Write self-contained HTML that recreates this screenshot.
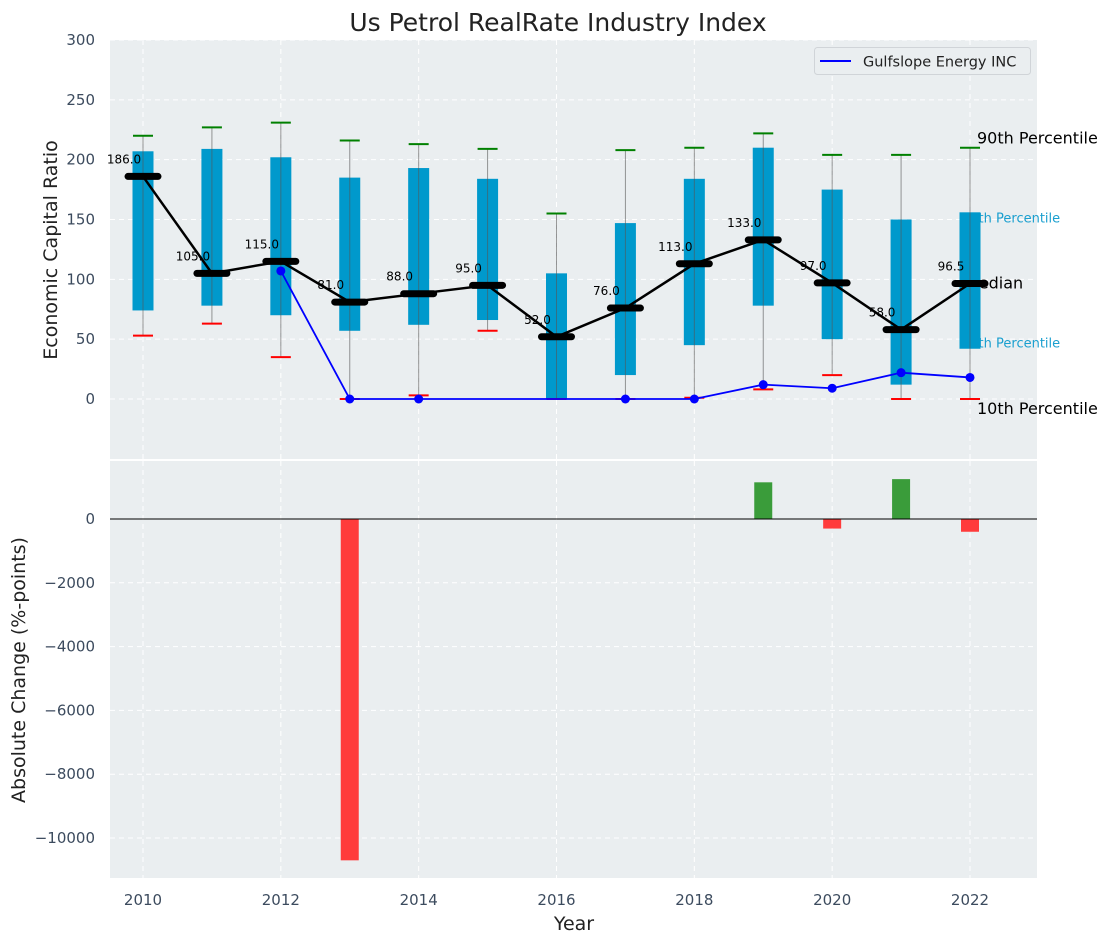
<!DOCTYPE html>
<html><head><meta charset="utf-8"><style>
body{margin:0;background:#fff}
text{font-family:"DejaVu Sans","Liberation Sans",sans-serif}
</style></head><body>
<svg id="c" width="1112" height="942" xmlns="http://www.w3.org/2000/svg"></svg>
<script>
const years=[2010,2011,2012,2013,2014,2015,2016,2017,2018,2019,2020,2021,2022];
const p10=[53,63,35,0,3,57,0,0,1,8,20,0,0];
const p25=[74,78,70,57,62,66,0,20,45,78,50,12,42];
const medians=[186,105,115,81,88,95,52,76,113,133,97,58,96.5];
const p75=[207,209,202,185,193,184,105,147,184,210,175,150,156];
const p90=[220,227,231,216,213,209,155,208,210,222,204,204,210];
const company=[null,null,107,0,0,null,null,0,0,12,9,22,18];
const changes=[0,0,0,-10700,0,0,0,0,0,1150,-300,1250,-400];
const topTicks=[0,50,100,150,200,250,300];
const botTicks=[0,-2000,-4000,-6000,-8000,-10000];
const xTicks=[2010,2012,2014,2016,2018,2020,2022];

const NS="http://www.w3.org/2000/svg";
const svg=document.getElementById('c');
function el(t,a,p){const e=document.createElementNS(NS,t);for(const k in a)e.setAttribute(k,a[k]);(p||svg).appendChild(e);return e;}
const L=110,R=1037;
const x=v=>143+(v-2010)*(970-143)/12;
const yT=v=>399-v*(359/300);
const yB=v=>519-v*(319/10000);

let e=el('rect',{x:L,y:40,width:R-L,height:419,fill:'#eaeef0'});

e=el('rect',{x:L,y:461,width:R-L,height:417,fill:'#eaeef0'});


xTicks.forEach(t=>{
  el('line',{x1:x(t),x2:x(t),y1:40,y2:459,stroke:'#fff','stroke-dasharray':'5,4','stroke-width':1});
  el('line',{x1:x(t),x2:x(t),y1:461,y2:878,stroke:'#fff','stroke-dasharray':'5,4','stroke-width':1});
  e=el('text',{x:x(t),y:905,'text-anchor':'middle','font-size':15,fill:'#3c4b5e'});e.textContent=t;
  
});
topTicks.forEach(t=>{
  el('line',{x1:L,x2:R,y1:yT(t),y2:yT(t),stroke:'#fff','stroke-dasharray':'5,4'});
  e=el('text',{x:95,y:yT(t)+5,'text-anchor':'end','font-size':15,fill:'#3c4b5e'});e.textContent=t;
  
});
botTicks.forEach(t=>{
  el('line',{x1:L,x2:R,y1:yB(t),y2:yB(t),stroke:'#fff','stroke-dasharray':'5,4'});
  e=el('text',{x:95,y:yB(t)+5,'text-anchor':'end','font-size':15,fill:'#3c4b5e'});e.textContent=(t<0?'\u2212'+(-t):t);
  
});

// right-side percentile labels (behind boxes)
[['90th Percentile',yT(p90[12])-4,977,'#000',16],['75th Percentile',yT(p75[12])+10,962,'#1a9fcf',13],['Median',yT(medians[12])+5,965,'#000',16],['25th Percentile',yT(p25[12])-1,962,'#1a9fcf',13],['10th Percentile',yT(p10[12])+15,977,'#000',16]].forEach(a=>{
  e=el('text',{x:a[2],y:a[1],'font-size':a[4],fill:a[3]});e.textContent=a[0];
  
});

years.forEach((yr,i)=>{
  const cx=x(yr);
  e=el('rect',{x:cx-10.5,y:yT(p75[i]),width:21,height:yT(p25[i])-yT(p75[i]),fill:'#0099cc'});
  
  e=el('line',{x1:cx,x2:cx,y1:yT(p10[i]),y2:yT(p90[i]),stroke:'#555','stroke-opacity':0.6,'stroke-width':1});
  
  e=el('line',{x1:cx-10,x2:cx+10,y1:yT(p90[i]),y2:yT(p90[i]),stroke:'#008000','stroke-width':2});
  
  e=el('line',{x1:cx-10,x2:cx+10,y1:yT(p10[i]),y2:yT(p10[i]),stroke:'#ff0000','stroke-width':2});
  
});

let pts=[];years.forEach((yr,i)=>{if(company[i]!==null)pts.push(x(yr)+','+yT(company[i]));});
e=el('polyline',{points:pts.join(' '),fill:'none',stroke:'#0000ff','stroke-width':1.8});

years.forEach((yr,i)=>{if(company[i]!==null){
  e=el('circle',{cx:x(yr),cy:yT(company[i]),r:4.5,fill:'#0000ff'});
  }});

e=el('polyline',{points:years.map((yr,i)=>x(yr)+','+yT(medians[i])).join(' '),fill:'none',stroke:'#000','stroke-width':2.5});

years.forEach((yr,i)=>{
  const cx=x(yr),cy=yT(medians[i]);
  e=el('line',{x1:cx-15,x2:cx+15,y1:cy,y2:cy,stroke:'#000','stroke-width':7,'stroke-linecap':'round'});
  
  e=el('text',{x:cx-19,y:cy-13,'text-anchor':'middle','font-size':12,fill:'#000'});e.textContent=medians[i].toFixed(1);
  
});

const lg=el('g',{});
el('rect',{x:814.5,y:47.5,width:216,height:27,rx:3,fill:'#eaeef0',stroke:'#d0d4d8'},lg);
el('line',{x1:820,x2:851,y1:61,y2:61,stroke:'#0000ff','stroke-width':2},lg);
e=el('text',{x:863,y:66.5,'font-size':14.5,fill:'#222'},lg);e.textContent='Gulfslope Energy INC';

years.forEach((yr,i)=>{
  const v=changes[i];if(v===0)return;
  const y0=yB(Math.max(v,0)),y1=yB(Math.min(v,0));
  e=el('rect',{x:x(yr)-9,y:y0,width:18,height:y1-y0,fill:v>0?'#3a9c3a':'#ff3b3b'});
  
});
e=el('line',{x1:L,x2:R,y1:yB(0),y2:yB(0),stroke:'#000','stroke-width':1});


e=el('text',{x:558,y:31,'text-anchor':'middle','font-size':25,fill:'#222'});e.textContent='Us Petrol RealRate Industry Index';

e=el('text',{x:574,y:930,'text-anchor':'middle','font-size':19,fill:'#222'});e.textContent='Year';

e=el('text',{x:0,y:0,'text-anchor':'middle','font-size':19,fill:'#222',transform:'translate(57,250) rotate(-90)'});e.textContent='Economic Capital Ratio';

e=el('text',{x:0,y:0,'text-anchor':'middle','font-size':19,fill:'#222',transform:'translate(25,670) rotate(-90)'});e.textContent='Absolute Change (%-points)';

</script>
</body></html>
